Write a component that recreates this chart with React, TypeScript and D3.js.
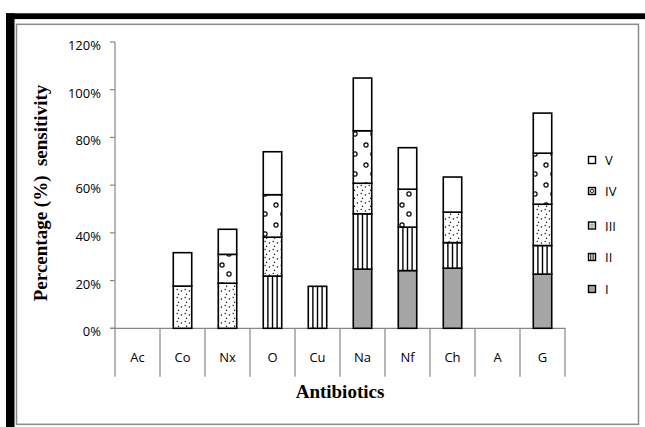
import React from 'react';
import * as d3 from 'd3';

const categories = ['Ac', 'Co', 'Nx', 'O', 'Cu', 'Na', 'Nf', 'Ch', 'A', 'G'];
const seriesI = [0, 0, 0, 0, 0, 24.8, 24.2, 25.2, 0, 22.7];
const seriesII = [0, 0, 0, 21.9, 17.6, 23.2, 18.2, 10.7, 0, 12.0];
const seriesIII = [0, 17.7, 18.9, 16.3, 0, 12.8, 0, 12.8, 0, 17.3];
const seriesIV = [0, 0, 12.1, 17.8, 0, 22.0, 15.9, 0, 0, 21.4];
const seriesV = [0, 14.0, 10.5, 18.0, 0, 22.1, 17.4, 14.7, 0, 16.8];
const seriesNames = ['I', 'II', 'III', 'IV', 'V'];
const yTicks = [0, 20, 40, 60, 80, 100, 120];

const fills: Record<string, string> = {
  I: '#a6a6a6',
  II: '#ffffff',
  III: 'url(#pDots)',
  IV: 'url(#pCircles)',
  V: '#ffffff',
};

export default function App() {
  const W = 645, H = 427;
  const x = d3.scaleBand<string>().domain(categories).range([115, 565]).paddingInner(0).paddingOuter(0);
  const y = d3.scaleLinear().domain([0, 120]).range([328.3, 42]);
  const rows = categories.map((c, i) => ({
    cat: c,
    I: seriesI[i], II: seriesII[i], III: seriesIII[i], IV: seriesIV[i], V: seriesV[i],
  }));
  const stack = d3.stack<any>().keys(seriesNames);
  const layers = stack(rows);
  const bw = x.bandwidth() * 0.41;
  const axisColor = '#868686';
  const sans = '"Open Sans", "DejaVu Sans", sans-serif';
  const serif = '"Liberation Serif", "Times New Roman", serif';

  const legendY: Record<string, number> = { V: 160, IV: 191, III: 225.5, II: 257, I: 289 };

  return (
    <svg width={W} height={H} style={{ position: 'absolute', left: 0, top: 0, background: '#fff' }}>
      <defs>
        <pattern id="pDots" patternUnits="userSpaceOnUse" width="8" height="8">
          <rect width="8" height="8" fill="#fff" />
          <circle cx="1.2" cy="1.4" r="0.7" fill="#000" />
          <circle cx="5.4" cy="3" r="0.7" fill="#000" />
          <circle cx="2.6" cy="6.2" r="0.7" fill="#000" />
        </pattern>
        <pattern id="pCircles" patternUnits="userSpaceOnUse" width="18" height="20">
          <rect width="18" height="20" fill="#fff" />
          <circle cx="6" cy="5" r="2.1" fill="none" stroke="#000" strokeWidth="1.2" />
          <circle cx="13" cy="14" r="2.1" fill="none" stroke="#000" strokeWidth="1.2" />
        </pattern>
      </defs>

      {/* outer frame */}
      <rect x={6} y={13.3} width={W - 6} height={5.8} fill="#000" />
      <rect x={6} y={13.3} width={8.5} height={H - 13.3} fill="#000" />
      <rect x={16.5} y={24.3} width={622} height={400} fill="#fff" stroke="#8a8a8a" strokeWidth={1.5} />

      {/* y axis */}
      <line x1={115} x2={115} y1={42} y2={376.7} stroke={axisColor} strokeWidth={1.2} />
      {yTicks.map(t => (
        <g key={t}>
          <line x1={110} x2={115} y1={y(t)} y2={y(t)} stroke={axisColor} strokeWidth={1.2} />
          <text x={101} y={y(t) + 8} textAnchor="end" fontFamily={sans} fontSize={13} fill="#000">{t}%</text>
        </g>
      ))}

      {/* x axis */}
      <line x1={110} x2={565.5} y1={y(0)} y2={y(0)} stroke={axisColor} strokeWidth={1.2} />
      {categories.map(c => (
        <line key={'t' + c} x1={(x(c) as number) + x.bandwidth()} x2={(x(c) as number) + x.bandwidth()} y1={y(0)} y2={376.7} stroke={axisColor} strokeWidth={1.2} />
      ))}
      {categories.map(c => (
        <text key={'l' + c} x={(x(c) as number) + x.bandwidth() / 2} y={361.5} textAnchor="middle" fontFamily={sans} fontSize={13} fill="#000">{c}</text>
      ))}

      {/* bars */}
      {layers.map(layer => (
        <g key={layer.key}>
          {layer.map((d, i) => {
            const v = d[1] - d[0];
            if (v <= 0) return null;
            const cx = (x(categories[i]) as number) + x.bandwidth() / 2;
            const x0 = cx - bw / 2;
            const y0 = y(d[1]);
            const h = y(d[0]) - y(d[1]);
            return (
              <g key={i}>
                <rect x={x0} y={y0} width={bw} height={h} fill={fills[layer.key]} />
                {layer.key === 'II' && [0.25, 0.5, 0.75].map(f => (
                  <line key={f} x1={x0 + bw * f} x2={x0 + bw * f} y1={y0} y2={y0 + h} stroke="#000" strokeWidth={1.4} />
                ))}
                <rect x={x0} y={y0} width={bw} height={h} fill="none" stroke="#000" strokeWidth={1.6} />
              </g>
            );
          })}
        </g>
      ))}

      {/* legend */}
      {seriesNames.map(s => {
        const ly = legendY[s];
        return (
          <g key={'lg' + s}>
            <rect x={588.5} y={ly - 3.5} width={7} height={7} fill={s === 'III' || s === 'IV' ? '#d9d9d9' : fills[s]} stroke="#000" strokeWidth={1.4} />
            {s === 'II' && [0.33, 0.66].map(f => (
              <line key={f} x1={588.5 + 7 * f} x2={588.5 + 7 * f} y1={ly - 3.5} y2={ly + 3.5} stroke="#000" strokeWidth={1} />
            ))}
            {s === 'IV' && <circle cx={592} cy={ly} r={1.6} fill="#fff" stroke="#000" strokeWidth={0.8} />}
            {s === 'III' && <circle cx={592} cy={ly} r={1.2} fill="#fff" stroke="#555" strokeWidth={0.6} />}
            <text x={605} y={ly + 5} fontFamily={sans} fontSize={13} fill="#000">{s}</text>
          </g>
        );
      })}

      {/* axis titles */}
      <text x={340} y={397.5} textAnchor="middle" fontFamily={serif} fontWeight="bold" fontSize={19} fill="#000">Antibiotics</text>
      <text transform="translate(47,193) rotate(-90)" textAnchor="middle" fontFamily={serif} fontWeight="bold" fontSize={19} fill="#000" xmlSpace="preserve">Percentage (%)  sensitivity</text>
    </svg>
  );
}
